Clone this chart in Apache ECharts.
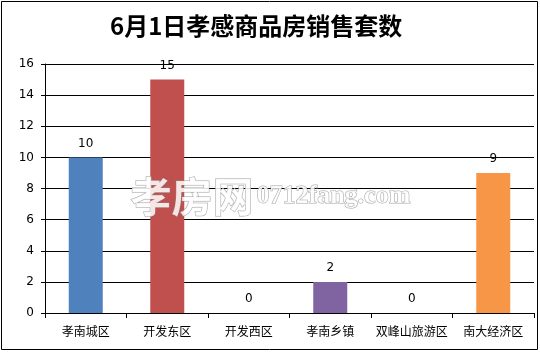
<!DOCTYPE html>
<html><head><meta charset="utf-8">
<script src="https://cdn.jsdelivr.net/npm/echarts@6/dist/echarts.min.js"></script>
<style>html,body{margin:0;padding:0;background:#fff}#c{width:540px;height:352px}</style>
</head><body><div id="c"></div>
<script>
const titleText = '6月1日孝感商品房销售套数';
const categories = ['孝南城区','开发东区','开发西区','孝南乡镇','双峰山旅游区','南大经济区'];
const values = [10, 15, 0, 2, 0, 9];
const colors = ['#4F81BD','#C0504D','#9BBB59','#8064A2','#4BACC6','#F79646'];
const yTicks = {min: 0, max: 16, interval: 2};

const chart = echarts.init(document.getElementById('c'));
chart.setOption({
  animation: false,
  backgroundColor: '#fff',
  title: {
    text: titleText, left: 105, top: 9,
    textStyle: {fontFamily: '"Noto Sans CJK SC"', fontWeight: 'bold', fontSize: 24, color: '#000'}
  },
  grid: {left: 45, right: 6, top: 64, bottom: 39},
  xAxis: {
    type: 'category', data: categories,
    axisLine: {lineStyle: {color: '#000', width: 1}},
    axisTick: {show: true, length: 5, lineStyle: {color: '#000'}},
    axisLabel: {color: '#000', fontSize: 12, margin: 12, fontFamily: '"Noto Sans CJK SC"', interval: 0}
  },
  yAxis: {
    type: 'value', min: yTicks.min, max: yTicks.max, interval: yTicks.interval,
    axisLine: {show: true, lineStyle: {color: '#000', width: 1}},
    axisTick: {show: true, length: 4, lineStyle: {color: '#000'}},
    axisLabel: {color: '#000', fontSize: 12, margin: 11, fontFamily: '"DejaVu Sans"'},
    splitLine: {show: true, lineStyle: {color: '#000', width: 1}}
  },
  series: [{
    type: 'bar', barWidth: 34,
    data: values.map((v, i) => ({value: v, itemStyle: {color: colors[i]}})),
    label: {show: true, position: 'top', distance: 8, color: '#000', fontSize: 12, fontFamily: '"DejaVu Sans"'}
  }],
  graphic: [
    {type: 'rect', shape: {x: 1.5, y: 1.5, width: 536, height: 348}, style: {fill: 'none', stroke: '#000', lineWidth: 1}, z: 100},
    {type: 'text', left: 130, top: 175, z: 100, style: {text: '孝房网', font: 'bold 41px "Noto Sans CJK SC"', fill: 'rgba(255,255,255,0.85)', stroke: 'rgba(140,140,140,0.8)', lineWidth: 1}},
    {type: 'text', left: 256, top: 183, z: 100, style: {text: '0712fang.com', font: 'bold 26px "Liberation Serif"', fill: 'rgba(255,255,255,0.85)', stroke: 'rgba(140,140,140,0.8)', lineWidth: 1}}
  ]
});
</script></body></html>
